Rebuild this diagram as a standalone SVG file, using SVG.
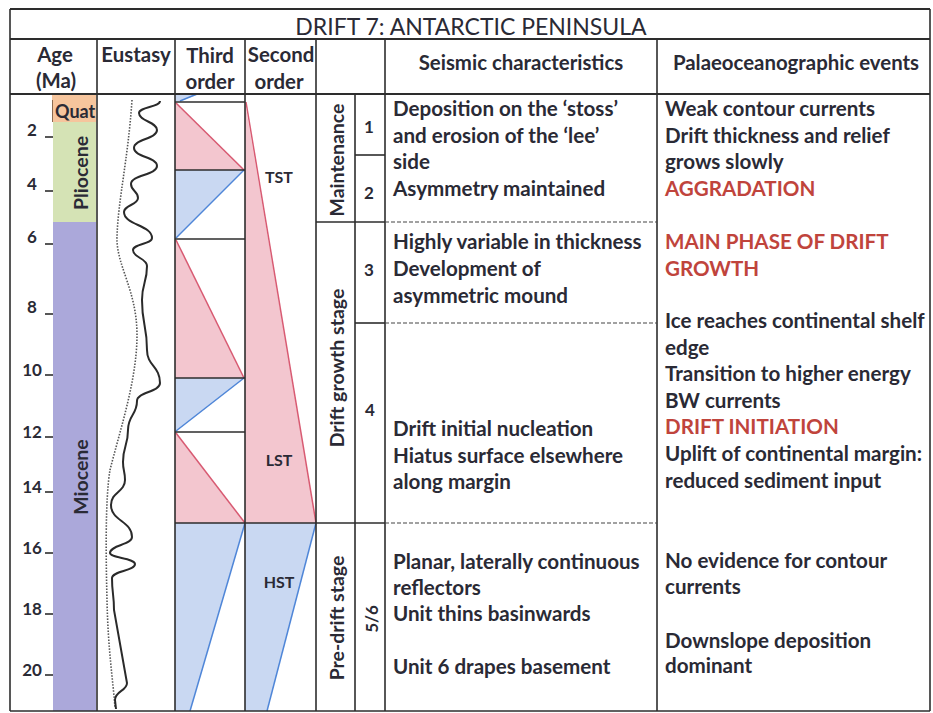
<svg xmlns="http://www.w3.org/2000/svg" width="933" height="713" viewBox="0 0 933 713">
<defs>
<style>
.t{font-family:Lato,"Liberation Sans",sans-serif;fill:#2a2a35;}
.b{font-weight:bold;}
.body{font-size:20.6px;font-weight:bold;}
.hd{font-size:20.4px;font-weight:bold;text-anchor:middle;}
.red{fill:#c0443c;}
.num{font-size:17px;font-weight:bold;text-anchor:middle;}
.ln{stroke:#2d2d2d;stroke-width:1.6;fill:none;}
.dash{stroke:#444;stroke-width:1.2;stroke-dasharray:4 2;fill:none;}
.pk{fill:#f3c6cf;}
.bl{fill:#c9d8f2;}
.pkl{stroke:#d85a72;stroke-width:1.5;fill:none;}
.bll{stroke:#4f86d8;stroke-width:1.5;fill:none;}
.rot{text-anchor:middle;dominant-baseline:central;}
</style>
<clipPath id="quatClip"><rect x="52" y="94" width="44" height="28"/></clipPath>
</defs>
<rect x="0" y="0" width="933" height="713" fill="#ffffff"/>

<g id="age-column">
<rect x="52" y="94" width="44" height="28" fill="#f6c59d"/>
<line x1="52.5" y1="100" x2="52.5" y2="122" stroke="#8a6a50" stroke-width="1"/>
<rect x="53" y="122" width="43" height="100" fill="#d5e3b5"/>
<rect x="53" y="222" width="43" height="489" fill="#aba8da"/>
<text class="t b" x="55" y="118" font-size="18" clip-path="url(#quatClip)">Quat</text>
<text class="t b rot" font-size="19.5" transform="translate(80,173) rotate(-90)">Pliocene</text>
<text class="t b rot" font-size="19.5" transform="translate(80,477) rotate(-90)">Miocene</text>
<g class="ln">
<line x1="45" y1="137" x2="53" y2="137"/>
<line x1="45" y1="191" x2="53" y2="191"/>
<line x1="45" y1="244" x2="53" y2="244"/>
<line x1="45" y1="314" x2="53" y2="314"/>
<line x1="45" y1="375" x2="53" y2="375"/>
<line x1="45" y1="437" x2="53" y2="437"/>
<line x1="45" y1="492" x2="53" y2="492"/>
<line x1="45" y1="553" x2="53" y2="553"/>
<line x1="45" y1="614" x2="53" y2="614"/>
<line x1="45" y1="675" x2="53" y2="675"/>
</g>
<text class="t num" x="32" y="136">2</text>
<text class="t num" x="32" y="190">4</text>
<text class="t num" x="32" y="243">6</text>
<text class="t num" x="32" y="313">8</text>
<text class="t num" x="32" y="376">10</text>
<text class="t num" x="32" y="438">12</text>
<text class="t num" x="32" y="493">14</text>
<text class="t num" x="32" y="554">16</text>
<text class="t num" x="32" y="615">18</text>
<text class="t num" x="32" y="676">20</text>
</g>

<g id="eustasy">
<path d="M132,100 C128,160 118,200 117,237 C116,265 137,290 137,335 C137,380 120,430 110,470 C105,500 106,560 107,600 C108,650 113,680 115,708" fill="none" stroke="#555" stroke-width="1.6" stroke-dasharray="1.5 1.5"/>
<path d="M160,101 C160,107 139,107 139,113 C139,121.5 157,121.5 157,130 C157,139 134,139 134,148 C134,157 157,157 157,166 C157,175 131,175 131,184 C131,191 138,191 138,198 C138,205 124,205 124,212 C124,225 152,225 152,238 C152,244 133,244 133,250 C133,258 147,258 147,266 C147,283 142,283 142,300 C142,325 147,325 147,350 C147,366 160,366 160,383 C160,392 137,392 137,401 C137,415 128,415 128,430 C128,446 123,446 123,462 C123,471 125,471 125,480 C125,492 111,492 111,505 C111,521 132,521 132,537 C132,545 110,545 110,553 C110,558 135,558 135,564 C135,571 112,571 112,578 C112,594 114,594 114,610 L127,683 C127,691 115,691 115,700 L116,709" fill="none" stroke="#2a2a2a" stroke-width="2"/>
</g>

<g id="third-order">
<polygon class="bl" points="175,95 197,95 180,101 175,101"/>
<line class="bll" x1="180" y1="101" x2="197" y2="94"/>
<polygon class="pk" points="175,102 244,170 175,170"/>
<line class="pkl" x1="176" y1="103" x2="244" y2="170"/>
<polygon class="bl" points="175,170 244,170 175,239"/>
<line class="bll" x1="244" y1="170" x2="176" y2="238"/>
<polygon class="pk" points="175,239 244,378 175,378"/>
<line class="pkl" x1="176" y1="240" x2="244" y2="378"/>
<polygon class="bl" points="175,378 244,378 175,432"/>
<line class="bll" x1="244" y1="378" x2="176" y2="431"/>
<polygon class="pk" points="175,432 245,523 175,523"/>
<line class="pkl" x1="176" y1="433" x2="245" y2="523"/>
<polygon class="bl" points="175,523 245,523 190,711 175,711"/>
<line class="bll" x1="245" y1="523" x2="190" y2="711"/>
<g class="ln">
<line x1="175" y1="102" x2="245" y2="102"/>
<line x1="175" y1="170" x2="245" y2="170"/>
<line x1="175" y1="239" x2="245" y2="239"/>
<line x1="175" y1="378" x2="245" y2="378"/>
<line x1="175" y1="432" x2="245" y2="432"/>
</g>
</g>

<g id="second-order">
<polygon class="pk" points="245,102 316,523 245,523"/>
<line class="pkl" x1="246" y1="102" x2="316" y2="523"/>
<polygon class="bl" points="245,523 316,523 267,711 245,711"/>
<line class="bll" x1="316" y1="523" x2="267" y2="711"/>
<text class="t b" x="279" y="183" font-size="16" text-anchor="middle" fill="#3a3a3a">TST</text>
<text class="t b" x="279" y="466" font-size="16" text-anchor="middle" fill="#3a3a3a">LST</text>
<text class="t b" x="279" y="588" font-size="16" text-anchor="middle" fill="#3a3a3a">HST</text>
</g>

<g id="frame" class="ln">
<line x1="10" y1="9" x2="930" y2="9" stroke-width="2"/>
<line x1="10" y1="39" x2="930" y2="39" stroke-width="2"/>
<line x1="10" y1="94" x2="930" y2="94" stroke-width="2"/>
<line x1="10" y1="711" x2="930" y2="711"/>
<line x1="10" y1="9" x2="10" y2="711"/>
<line x1="930" y1="9" x2="930" y2="711"/>
<line x1="97" y1="39" x2="97" y2="711"/>
<line x1="175" y1="39" x2="175" y2="711"/>
<line x1="245" y1="39" x2="245" y2="711"/>
<line x1="316" y1="39" x2="316" y2="711"/>
<line x1="355" y1="94" x2="355" y2="711"/>
<line x1="385" y1="39" x2="385" y2="711"/>
<line x1="657" y1="39" x2="657" y2="711"/>
<line x1="175" y1="523" x2="385" y2="523"/>
<line x1="316" y1="222" x2="385" y2="222"/>
<line x1="355" y1="155" x2="385" y2="155"/>
<line x1="355" y1="323" x2="385" y2="323"/>
</g>
<g id="dividers">
<line class="dash" x1="385" y1="222" x2="657" y2="222"/>
<line class="dash" x1="385" y1="323" x2="657" y2="323"/>
<line class="dash" x1="385" y1="523" x2="657" y2="523"/>
</g>

<g id="title">
<text class="t" x="471" y="35" font-size="23" text-anchor="middle">DRIFT 7: ANTARCTIC PENINSULA</text>
</g>

<g id="header">
<text class="t hd" x="55" y="62">Age</text>
<text class="t hd" x="56" y="88">(Ma)</text>
<text class="t hd" x="136" y="62">Eustasy</text>
<text class="t hd" x="210" y="63">Third</text>
<text class="t hd" x="210" y="89">order</text>
<text class="t hd" x="281" y="62">Second</text>
<text class="t hd" x="279" y="89">order</text>
<text class="t hd" x="521" y="70">Seismic characteristics</text>
<text class="t hd" x="796" y="70" font-size="21">Palaeoceanographic events</text>
</g>

<g id="stages">
<text class="t b rot" font-size="19.5" transform="translate(336,160) rotate(-90)">Maintenance</text>
<text class="t b rot" font-size="19.5" transform="translate(336,368) rotate(-90)">Drift growth stage</text>
<text class="t b rot" font-size="19.5" transform="translate(336,618) rotate(-90)">Pre-drift stage</text>
</g>

<g id="units">
<text class="t num" x="369" y="133">1</text>
<text class="t num" x="369" y="199">2</text>
<text class="t num" x="369" y="276">3</text>
<text class="t num" x="370" y="416">4</text>
<text class="t b rot" font-size="17" transform="translate(371,619) rotate(-90)">5/6</text>
</g>

<g id="seismic">
<text class="t body" x="393" y="116">Deposition on the ‘stoss’</text>
<text class="t body" x="393" y="143">and erosion of the ‘lee’</text>
<text class="t body" x="393" y="169">side</text>
<text class="t body" x="393" y="196">Asymmetry maintained</text>
<text class="t body" x="393" y="249">Highly variable in thickness</text>
<text class="t body" x="393" y="276">Development of</text>
<text class="t body" x="393" y="303">asymmetric mound</text>
<text class="t body" x="393" y="436">Drift initial nucleation</text>
<text class="t body" x="393" y="463">Hiatus surface elsewhere</text>
<text class="t body" x="393" y="489">along margin</text>
<text class="t body" x="393" y="569">Planar, laterally continuous</text>
<text class="t body" x="393" y="595">reflectors</text>
<text class="t body" x="393" y="621">Unit thins basinwards</text>
<text class="t body" x="393" y="674">Unit 6 drapes basement</text>
</g>

<g id="palaeo">
<text class="t body" x="665" y="116">Weak contour currents</text>
<text class="t body" x="665" y="143">Drift thickness and relief</text>
<text class="t body" x="665" y="169">grows slowly</text>
<text class="t body red" x="665" y="196">AGGRADATION</text>
<text class="t body red" x="665" y="249">MAIN PHASE OF DRIFT</text>
<text class="t body red" x="665" y="276">GROWTH</text>
<text class="t body" x="665" y="328">Ice reaches continental shelf</text>
<text class="t body" x="665" y="355">edge</text>
<text class="t body" x="665" y="381">Transition to higher energy</text>
<text class="t body" x="665" y="408">BW currents</text>
<text class="t body red" x="665" y="434">DRIFT INITIATION</text>
<text class="t body" x="665" y="461">Uplift of continental margin:</text>
<text class="t body" x="665" y="488">reduced sediment input</text>
<text class="t body" x="665" y="568">No evidence for contour</text>
<text class="t body" x="665" y="594">currents</text>
<text class="t body" x="665" y="648">Downslope deposition</text>
<text class="t body" x="665" y="673">dominant</text>
</g>
</svg>
